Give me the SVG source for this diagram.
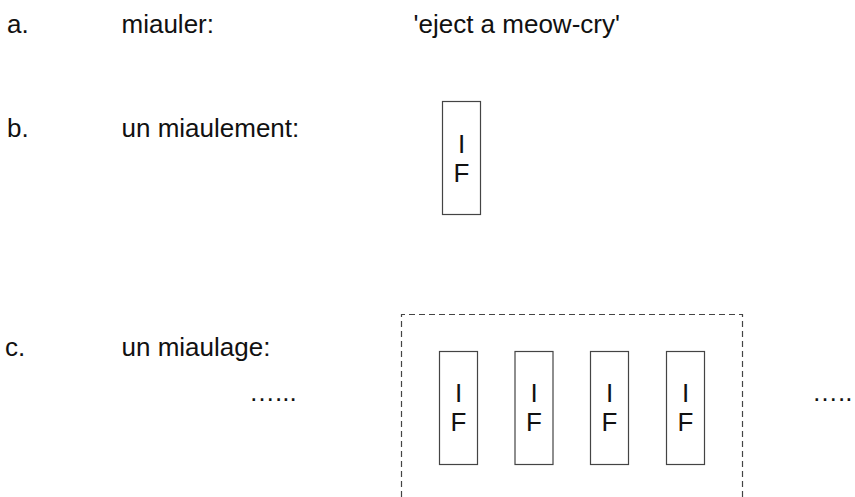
<svg xmlns="http://www.w3.org/2000/svg" width="855" height="497" viewBox="0 0 855 497">
  <style>
    text { font-family: "Liberation Sans", Arial, sans-serif; font-size: 26px; fill: #111; }
    .mid { text-anchor: middle; }
    .unit { fill: #fff; stroke: #444; stroke-width: 1.2; }
    .frame { fill: none; stroke: #444; stroke-width: 1.2; stroke-dasharray: 6 4; }
  </style>
  <rect width="855" height="497" fill="#fff"/>

  <!-- a. verb and gloss -->
  <g id="row-a">
    <text x="7" y="33">a.</text>
    <text x="121.5" y="33">miauler:</text>
    <text x="413.5" y="33">'eject a meow-cry'</text>
  </g>

  <!-- b. single event noun -->
  <g id="row-b">
    <text x="7" y="137">b.</text>
    <text x="121.5" y="137">un miaulement:</text>
  </g>
  <g id="unit-b">
    <rect class="unit" x="442.5" y="101.5" width="38" height="113"/>
    <text class="mid" x="461.5" y="153">I</text>
    <text class="mid" x="461.5" y="182">F</text>
  </g>

  <!-- c. iterated event noun -->
  <g id="row-c">
    <text x="5" y="356">c.</text>
    <text x="121.5" y="356">un miaulage:</text>
    <text x="249" y="401">…...</text>
    <text x="812" y="401">…..</text>
  </g>

  <g id="frame-c">
    <path class="frame" d="M401.5,497 V314.5 H742.5 V497"/>
  </g>

  <g id="unit-c1">
    <rect class="unit" x="439.5" y="351.5" width="38" height="113"/>
    <text class="mid" x="458.5" y="402">I</text>
    <text class="mid" x="458.5" y="431">F</text>
  </g>
  <g id="unit-c2">
    <rect class="unit" x="515" y="351.5" width="38" height="113"/>
    <text class="mid" x="534" y="402">I</text>
    <text class="mid" x="534" y="431">F</text>
  </g>
  <g id="unit-c3">
    <rect class="unit" x="590.5" y="351.5" width="38" height="113"/>
    <text class="mid" x="609.5" y="402">I</text>
    <text class="mid" x="609.5" y="431">F</text>
  </g>
  <g id="unit-c4">
    <rect class="unit" x="666.5" y="351.5" width="38" height="113"/>
    <text class="mid" x="685.5" y="402">I</text>
    <text class="mid" x="685.5" y="431">F</text>
  </g>

  <!-- no connectors in this figure -->
  <g id="connectors"/>
</svg>
